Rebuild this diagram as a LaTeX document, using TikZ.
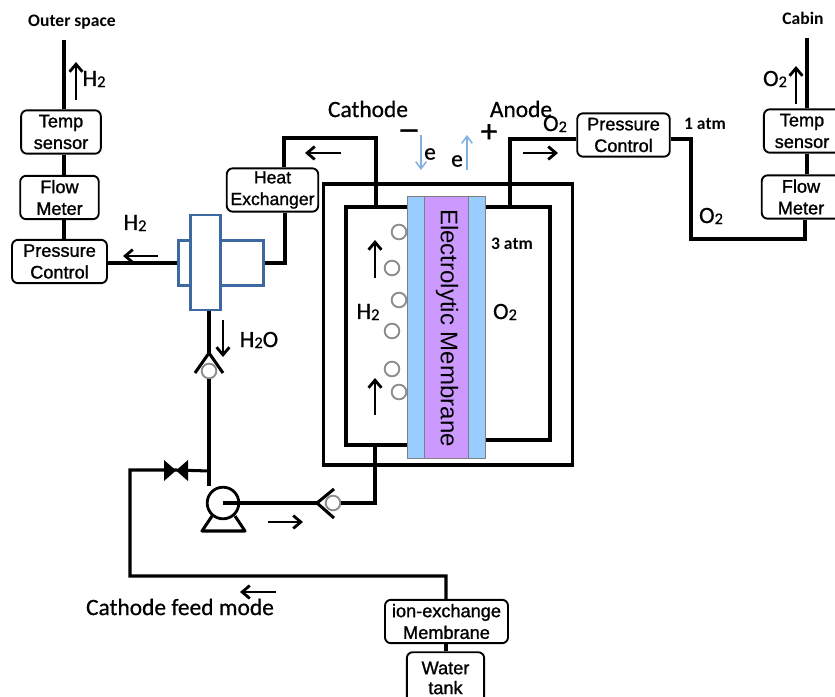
\documentclass[tikz,border=0pt]{standalone}
\usepackage{fontspec}
\setmainfont{Liberation Sans}[AutoFakeBold=1.2]
\newfontfamily\labelfont{Carlito}[AutoFakeBold=0.6]
\newfontfamily\noteboldfont{Carlito}
\usetikzlibrary{arrows.meta}
\definecolor{sepblue}{RGB}{62,104,160}
\definecolor{meablue}{RGB}{153,204,255}
\definecolor{membviolet}{RGB}{204,153,255}
\definecolor{elecblue}{RGB}{130,175,225}
\tikzset{
  pipe/.style={line width=2.6pt},
  flowarrow/.style={line width=2.4pt, -{Straight Barb[length=6.5pt,width=11pt]}},
  unitbox/.style={draw, line width=1.6pt, rounded corners=5pt, align=center, inner sep=0pt,
    font=\bfseries\fontsize{15.5}{18.5}\selectfont},
  bubble/.style={draw=black!45, line width=1.6pt, circle, fill=white, minimum size=12.5pt, inner sep=0pt},
  vessel/.style={draw=sepblue, line width=2.4pt, fill=white, inner sep=0pt},
  biglabel/.style={font=\labelfont\bfseries\fontsize{20}{22}\selectfont, inner sep=0pt},
  smalllabel/.style={font=\noteboldfont\bfseries\fontsize{15}{17}\selectfont, inner sep=0pt},
  elecarrow/.style={draw=elecblue, line width=1.3pt, -{Straight Barb[length=6pt,width=9pt]}},
}
\newcommand{\subtwo}{\raisebox{-0.1ex}{\scalebox{0.7}{2}}}
\begin{document}
\begin{tikzpicture}[x=0.03cm, y=-0.03cm]
  \useasboundingbox (0,0) rectangle (835,697);

  % left outlet train
  \node[unitbox, minimum width=68pt, minimum height=37pt] (tempL) at (61,132) {Temp\\sensor};
  \node[unitbox, minimum width=67pt, minimum height=37pt] (flowL) at (59.5,197.5) {Flow\\Meter};
  \node[unitbox, minimum width=81pt, minimum height=37pt] (pressL) at (59.5,261.5) {Pressure\\Control};
  \node[smalllabel] (outer) at (72,22) {Outer space};
  \coordinate (outerEnd) at (64,40);
  \draw[pipe] (tempL.north -| outerEnd) -- (outerEnd);
  \draw[pipe] (tempL.south -| outerEnd) -- (flowL.north -| outerEnd);
  \draw[pipe] (flowL.south -| outerEnd) -- (pressL.north -| outerEnd);
  \draw[flowarrow] (76,100) -- (76,62);
  \node[biglabel] (hTop) at (94,79) {H\subtwo};
  \node[biglabel] (hLeft) at (135,223) {H\subtwo};
  \draw[flowarrow] (158,256) -- (123,256);

  % separator
  \node[vessel, minimum width=73pt, minimum height=39pt] (drum) at (221,263) {};
  \node[vessel, minimum width=25pt, minimum height=81pt] (sep) at (205.5,262.5) {};
  \node[unitbox, minimum width=78pt, minimum height=37pt, font=\bfseries\fontsize{15}{18.5}\selectfont] (heat) at (272.5,190) {Heat\\Exchanger};
  \coordinate (heatTee) at (285,263);
  \coordinate (heatTop) at (284,138);
  \coordinate (cathIn) at (376,207);
  \draw[pipe] (pressL.east |- heatTee) -- (drum.west |- heatTee);
  \draw[pipe] (drum.east |- heatTee) -- (heatTee) -- (heat.south -| heatTee);
  \draw[pipe] (heat.north -| heatTop) -- (heatTop) -- (cathIn |- heatTop) -- (cathIn);
  \draw[flowarrow] (341,153) -- (305,153);
  \node[biglabel] (cathode) at (368,109) {Cathode};
  \node[biglabel] (anode) at (521,109) {Anode};

  % cell
  \node[draw, line width=2.8pt, minimum width=213pt, minimum height=240pt, inner sep=0pt] (cell) at (448,324.5) {};
  \draw[pipe] (408,207) -- (346,207) -- (346,445) -- (408,445);
  \draw[pipe] (486,207) -- (550,207) -- (550,440) -- (486,440);
  \node[draw=black!50, line width=0.9pt, fill=meablue, minimum width=66pt, minimum height=223pt, inner sep=0pt] (mea) at (446.5,327.5) {};
  \node[draw=black!50, line width=0.9pt, fill=membviolet, minimum width=38pt, minimum height=223pt, inner sep=0pt] (memb) at (446.5,327.5) {};
  \node[rotate=-90, font=\fontsize{20.5}{22}\selectfont, inner sep=0pt] (membLabel) at (447,328) {Electrolytic Membrane};
  \foreach \cx/\cy [count=\i] in {399/232, 392/268, 399/300, 392/331, 392/369, 399/392}
    \node[bubble] (gas\i) at (\cx,\cy) {};
  \draw[flowarrow] (375,278) -- (375,240);
  \draw[flowarrow] (375,415) -- (375,378);
  \node[biglabel] (hCell) at (368,312) {H\subtwo};
  \node[biglabel] (oCell) at (505,312) {O\subtwo};
  \node[smalllabel] (threeAtm) at (512,244) {3 atm};

  % electrons
  \node[font=\bfseries\fontsize{26}{26}\selectfont, inner sep=0pt] (minus) at (409,134) {--};
  \node[font=\bfseries\fontsize{26}{26}\selectfont, inner sep=0pt] (plus) at (489,133) {+};
  \draw[elecarrow] (421,135) -- (421,170);
  \draw[elecarrow] (467,170) -- (467,135);
  \node[biglabel] (eMinus) at (430,154) {e};
  \node[biglabel] (ePlus) at (457,161) {e};

  % oxygen side
  \node[unitbox, minimum width=79pt, minimum height=37pt] (pressR) at (623.5,135) {Pressure\\Control};
  \coordinate (anodeOut) at (510,207);
  \coordinate (anodeLine) at (510,139);
  \coordinate (riser) at (691,139);
  \coordinate (riserLow) at (691,239);
  \coordinate (flowIn) at (805,239);
  \draw[pipe] (anodeOut) -- (anodeLine) -- (pressR.west |- anodeLine);
  \draw[flowarrow] (523,153) -- (558,153);
  \node[biglabel] (oPress) at (555,124) {O\subtwo};
  \node[smalllabel] (oneAtm) at (705,124) {1 atm};
  \node[unitbox, minimum width=65pt, minimum height=37pt] (tempR) at (802,131) {Temp\\sensor};
  \node[unitbox, minimum width=67pt, minimum height=37pt] (flowR) at (801,197) {Flow\\Meter};
  \draw[pipe] (pressR.east |- riser) -- (riser) -- (riserLow) -- (flowIn) -- (flowR.south -| flowIn);
  \coordinate (cabinEnd) at (807,38);
  \draw[pipe] (tempR.south -| cabinEnd) -- (flowR.north -| cabinEnd);
  \draw[pipe] (tempR.north -| cabinEnd) -- (cabinEnd);
  \draw[flowarrow] (796,104) -- (796,66);
  \node[biglabel] (oTop) at (775,79) {O\subtwo};
  \node[biglabel] (oPipe) at (711,216) {O\subtwo};
  \node[smalllabel] (cabin) at (803,18) {Cabin};

  % water loop
  \node[bubble] (checkTop) at (209,371) {};
  \node[bubble] (checkLow) at (333,503) {};
  \coordinate (checkTopApex) at (209,353);
  \coordinate (checkLowApex) at (317,503);
  \draw[pipe] (sep.south -| checkTopApex) -- (checkTopApex);
  \draw[pipe] (195,373) -- (checkTopApex) -- (223,373);
  \draw[pipe] (334,489) -- (checkLowApex) -- (334,518);
  \node[draw, line width=2.4pt, circle, minimum size=27pt, inner sep=0pt] (pump) at (223,503) {};
  \draw[pipe] (checkTop.south) -- (pump.north -| checkTop);
  \draw[pipe] (pump.center) -- (checkLowApex);
  \draw[pipe] (checkLow.east) -- (375,503) -- (375,445);
  \draw[pipe, line join=round] (212,516) -- (202,531) -- (245,531) -- (235,516);
  \draw[flowarrow] (268,522) -- (303,522);
  \draw[flowarrow] (223,320) -- (223,357);
  \node[biglabel] (hWater) at (259,340) {H\subtwo O};
  \coordinate (valve) at (176,470);
  \coordinate (feedCorner) at (130,470);
  \fill (164,460) -- (188,481) -- (188,460) -- (164,481) -- cycle;
  \node[unitbox, minimum width=105pt, minimum height=37pt] (ion) at (446.5,621.5) {ion-exchange\\Membrane};
  \node[unitbox, minimum width=66pt, minimum height=44pt, font=\bfseries\fontsize{15.5}{17}\selectfont] (tank) at (445.5,678) {Water\\tank};
  \draw[pipe] (209,471) -- (valve) -- (feedCorner) -- (130,576) -- (446,576) -- (ion.north -| 446,0);
  \draw[pipe] (ion.south -| 446,0) -- (tank.north -| 446,0);
  \draw[flowarrow] (276,592) -- (240,592);
  \node[biglabel] (feed) at (180,607) {Cathode feed mode};
\end{tikzpicture}
\end{document}
